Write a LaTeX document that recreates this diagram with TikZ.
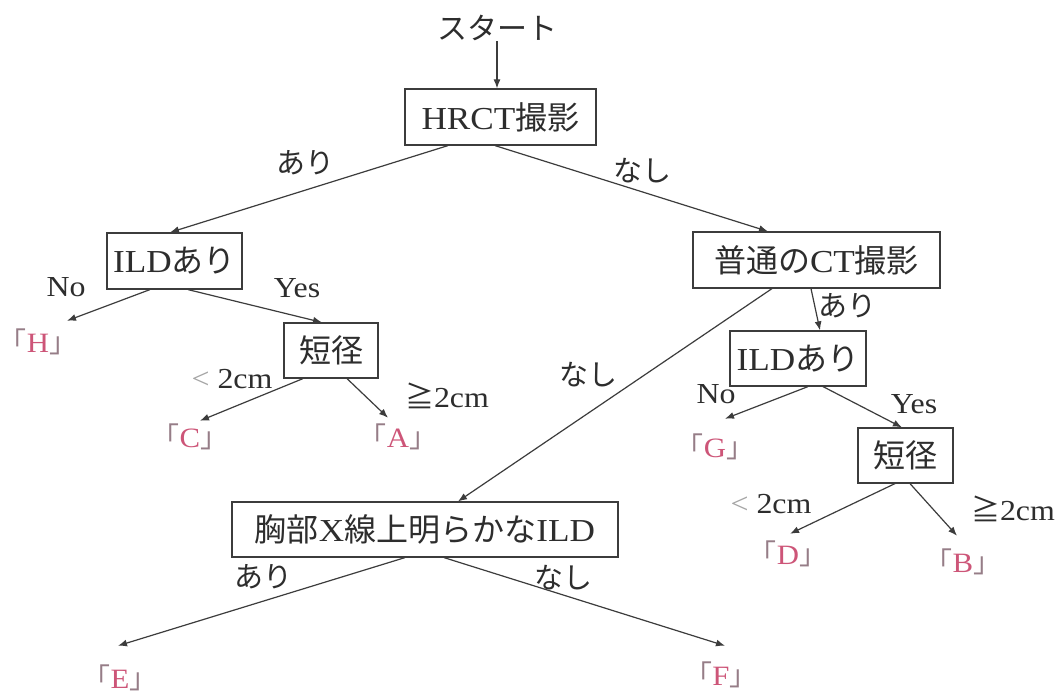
\documentclass[tikz,border=0pt]{standalone}
\usepackage{fontspec}
\setmainfont{Liberation Serif}[FakeStretch=1.1]
\newfontfamily\jp{Noto Sans CJK JP}
\usetikzlibrary{arrows.meta}
\definecolor{ink}{RGB}{45,45,45}
\definecolor{linec}{RGB}{60,60,60}
\definecolor{pinkc}{RGB}{205,85,120}
\definecolor{brk}{RGB}{150,125,135}
\definecolor{ltgray}{RGB}{165,165,165}
\newcommand{\leafname}[1]{{\jp\color{brk}「}{\color{pinkc}#1}{\jp\color{brk}」}}
\begin{document}
\begin{tikzpicture}[x=1pt,y=-1pt,
  box/.style={draw=linec,line width=1.2pt,inner sep=0pt,text=ink,font=\fontsize{32}{34}\selectfont},
  lbl/.style={text=ink,inner sep=0pt,font=\fontsize{29}{31}\selectfont},
  leaf/.style={inner sep=0pt,font=\fontsize{28}{30}\selectfont},
  arr/.style={draw=linec,line width=1.2pt,-{Latex[length=9pt,width=7pt]}}]
\useasboundingbox[fill=white] (0,0) rectangle (1061,695);

% boxes
\node[lbl,font=\fontsize{30}{32}\selectfont] (start) at (497,28) {\jp スタート};
\node[box,minimum width=191pt,minimum height=56pt] (hrct) at (500.5,117) {HRCT{\jp 撮影}};
\node[box,minimum width=135pt,minimum height=56pt] (ild1) at (174.5,261) {ILD{\jp あり}};
\node[box,minimum width=247pt,minimum height=56pt] (ct) at (816.5,260) {{\jp 普通の}CT{\jp 撮影}};
\node[box,minimum width=94pt,minimum height=55pt] (tan1) at (331,350.5) {\jp 短径};
\node[box,minimum width=136pt,minimum height=55pt] (ild2) at (798,358.5) {ILD{\jp あり}};
\node[box,minimum width=95pt,minimum height=55pt] (tan2) at (905.5,455.5) {\jp 短径};
\node[box,minimum width=386pt,minimum height=55pt] (xray) at (425,529.5) {{\jp 胸部}X{\jp 線上明らかな}ILD};

% leaves
\node[leaf] (H) at (38,342) {\leafname{H}};
\node[leaf] (C) at (190,437) {\leafname{C}};
\node[leaf] (A) at (398,437) {\leafname{A}};
\node[leaf] (G) at (715,447) {\leafname{G}};
\node[leaf] (D) at (788,554) {\leafname{D}};
\node[leaf] (B) at (963,562) {\leafname{B}};
\node[leaf] (E) at (120,678) {\leafname{E}};
\node[leaf] (F) at (721,675) {\leafname{F}};

% labels
\node[lbl] (l1) at (305,163) {\jp あり};
\node[lbl] (l2) at (642,171) {\jp なし};
\node[lbl] (l3) at (66,287) {No};
\node[lbl] (l4) at (297,288) {Yes};
\node[lbl] (l5) at (232,379) {{\color{ltgray}<} 2cm};
\node[lbl] (l6) at (447,396) {{\jp ≧}2cm};
\node[lbl] (l7) at (588,375) {\jp なし};
\node[lbl] (l8) at (847,306) {\jp あり};
\node[lbl] (l9) at (716,394) {No};
\node[lbl] (l10) at (914,404) {Yes};
\node[lbl] (l11) at (771,504) {{\color{ltgray}<} 2cm};
\node[lbl] (l12) at (1013,509) {{\jp ≧}2cm};
\node[lbl] (l13) at (263,577) {\jp あり};
\node[lbl] (l14) at (563,578) {\jp なし};

% connectors
\draw[arr] (start.south) -- ([xshift=-3.5pt]hrct.north);
\draw[arr] ([xshift=-52.5pt]hrct.south) -- ([xshift=-4.5pt]ild1.north);
\draw[arr] ([xshift=-5.5pt]hrct.south) -- ([xshift=-48.5pt]ct.north);
\draw[arr] ([xshift=-24.5pt]ild1.south) -- ([xshift=29pt,yshift=8pt]H.north);
\draw[arr] ([xshift=13.5pt]ild1.south) -- ([xshift=-9pt]tan1.north);
\draw[arr] ([xshift=-28pt]tan1.south) -- ([xshift=10pt,yshift=3pt]C.north);
\draw[arr] ([xshift=16pt]tan1.south) -- ([xshift=-10pt,yshift=6pt]A.north);
\draw[arr] ([xshift=-44.5pt]ct.south) -- ([xshift=33pt]xray.north);
\draw[arr] ([xshift=-5.5pt]ct.south) -- ([xshift=22pt]ild2.north);
\draw[arr] ([xshift=10pt]ild2.south) -- ([xshift=10pt,yshift=15pt]G.north);
\draw[arr] ([xshift=25pt]ild2.south) -- ([xshift=-3.5pt]tan2.north);
\draw[arr] ([xshift=-10.5pt]tan2.south) -- ([xshift=2pt,yshift=7pt]D.north);
\draw[arr] ([xshift=4.5pt]tan2.south) -- ([xshift=-6pt,yshift=13pt]B.north);
\draw[arr] ([xshift=-20pt]xray.south) -- ([xshift=-2pt,yshift=19pt]E.north);
\draw[arr] ([xshift=19pt]xray.south) -- ([xshift=4pt,yshift=16pt]F.north);
\end{tikzpicture}
\end{document}
